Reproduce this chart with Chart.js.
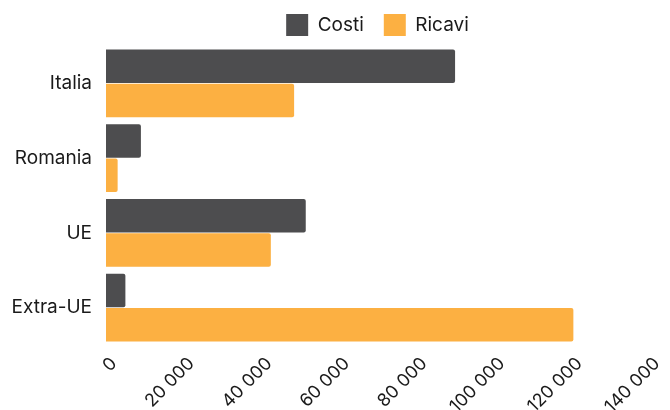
<!DOCTYPE html>
<html>
<head>
<meta charset="utf-8">
<script src="https://cdn.jsdelivr.net/npm/chart.js@4/dist/chart.umd.min.js"></script>
<style>
html,body{margin:0;padding:0;background:#fff;}
#wrap{width:670px;height:410px;position:relative;}
</style>
</head>
<body>
<div id="wrap"><canvas id="c" width="670" height="410"></canvas></div>
<script>
const categories = ["Italia", "Romania", "UE", "Extra-UE"];
const seriesNames = ["Costi", "Ricavi"];
const costi = [90000, 9000, 51500, 5000];
const ricavi = [48500, 3000, 42500, 120500];
const tickMin = 0;
const tickMax = 140000;
const tickStep = 20000;

function fmt(v) {
  return String(Math.round(v)).replace(/\B(?=(\d{3})+(?!\d))/g, " ");
}

Chart.defaults.font.family = "Inter, 'DejaVu Sans', sans-serif";
Chart.defaults.font.size = 19;
Chart.defaults.color = "#1a1a1a";

new Chart(document.getElementById("c"), {
  type: "bar",
  data: {
    labels: categories,
    datasets: [
      { label: seriesNames[0], data: costi, backgroundColor: "#4d4d4f", borderRadius: 2,
        categoryPercentage: 0.913, barPercentage: 0.98 },
      { label: seriesNames[1], data: ricavi, backgroundColor: "#fcb042", borderRadius: 2,
        categoryPercentage: 0.913, barPercentage: 0.98 }
    ]
  },
  options: {
    indexAxis: "y",
    responsive: false,
    animation: false,
    layout: { padding: { left: 0, right: 21, top: -6, bottom: 0 } },
    plugins: {
      legend: {
        position: "top",
        fullSize: false,
        maxHeight: 52,
        labels: { boxWidth: 22, boxHeight: 22, padding: 20, font: { size: 19 } }
      },
      tooltip: { enabled: false }
    },
    scales: {
      x: {
        min: tickMin, max: tickMax,
        grid: { display: false },
        border: { display: false },
        afterFit: (s) => { s.height = 65; },
        ticks: { stepSize: tickStep, minRotation: 45, maxRotation: 45,
          labelOffset: 8, padding: 0,
          callback: (v) => fmt(v), font: { size: 18 } }
      },
      y: {
        grid: { display: false },
        border: { display: false },
        afterFit: (s) => { s.width = 106; },
        ticks: { font: { size: 19 }, padding: 6 }
      }
    }
  }
});
</script>
</body>
</html>
